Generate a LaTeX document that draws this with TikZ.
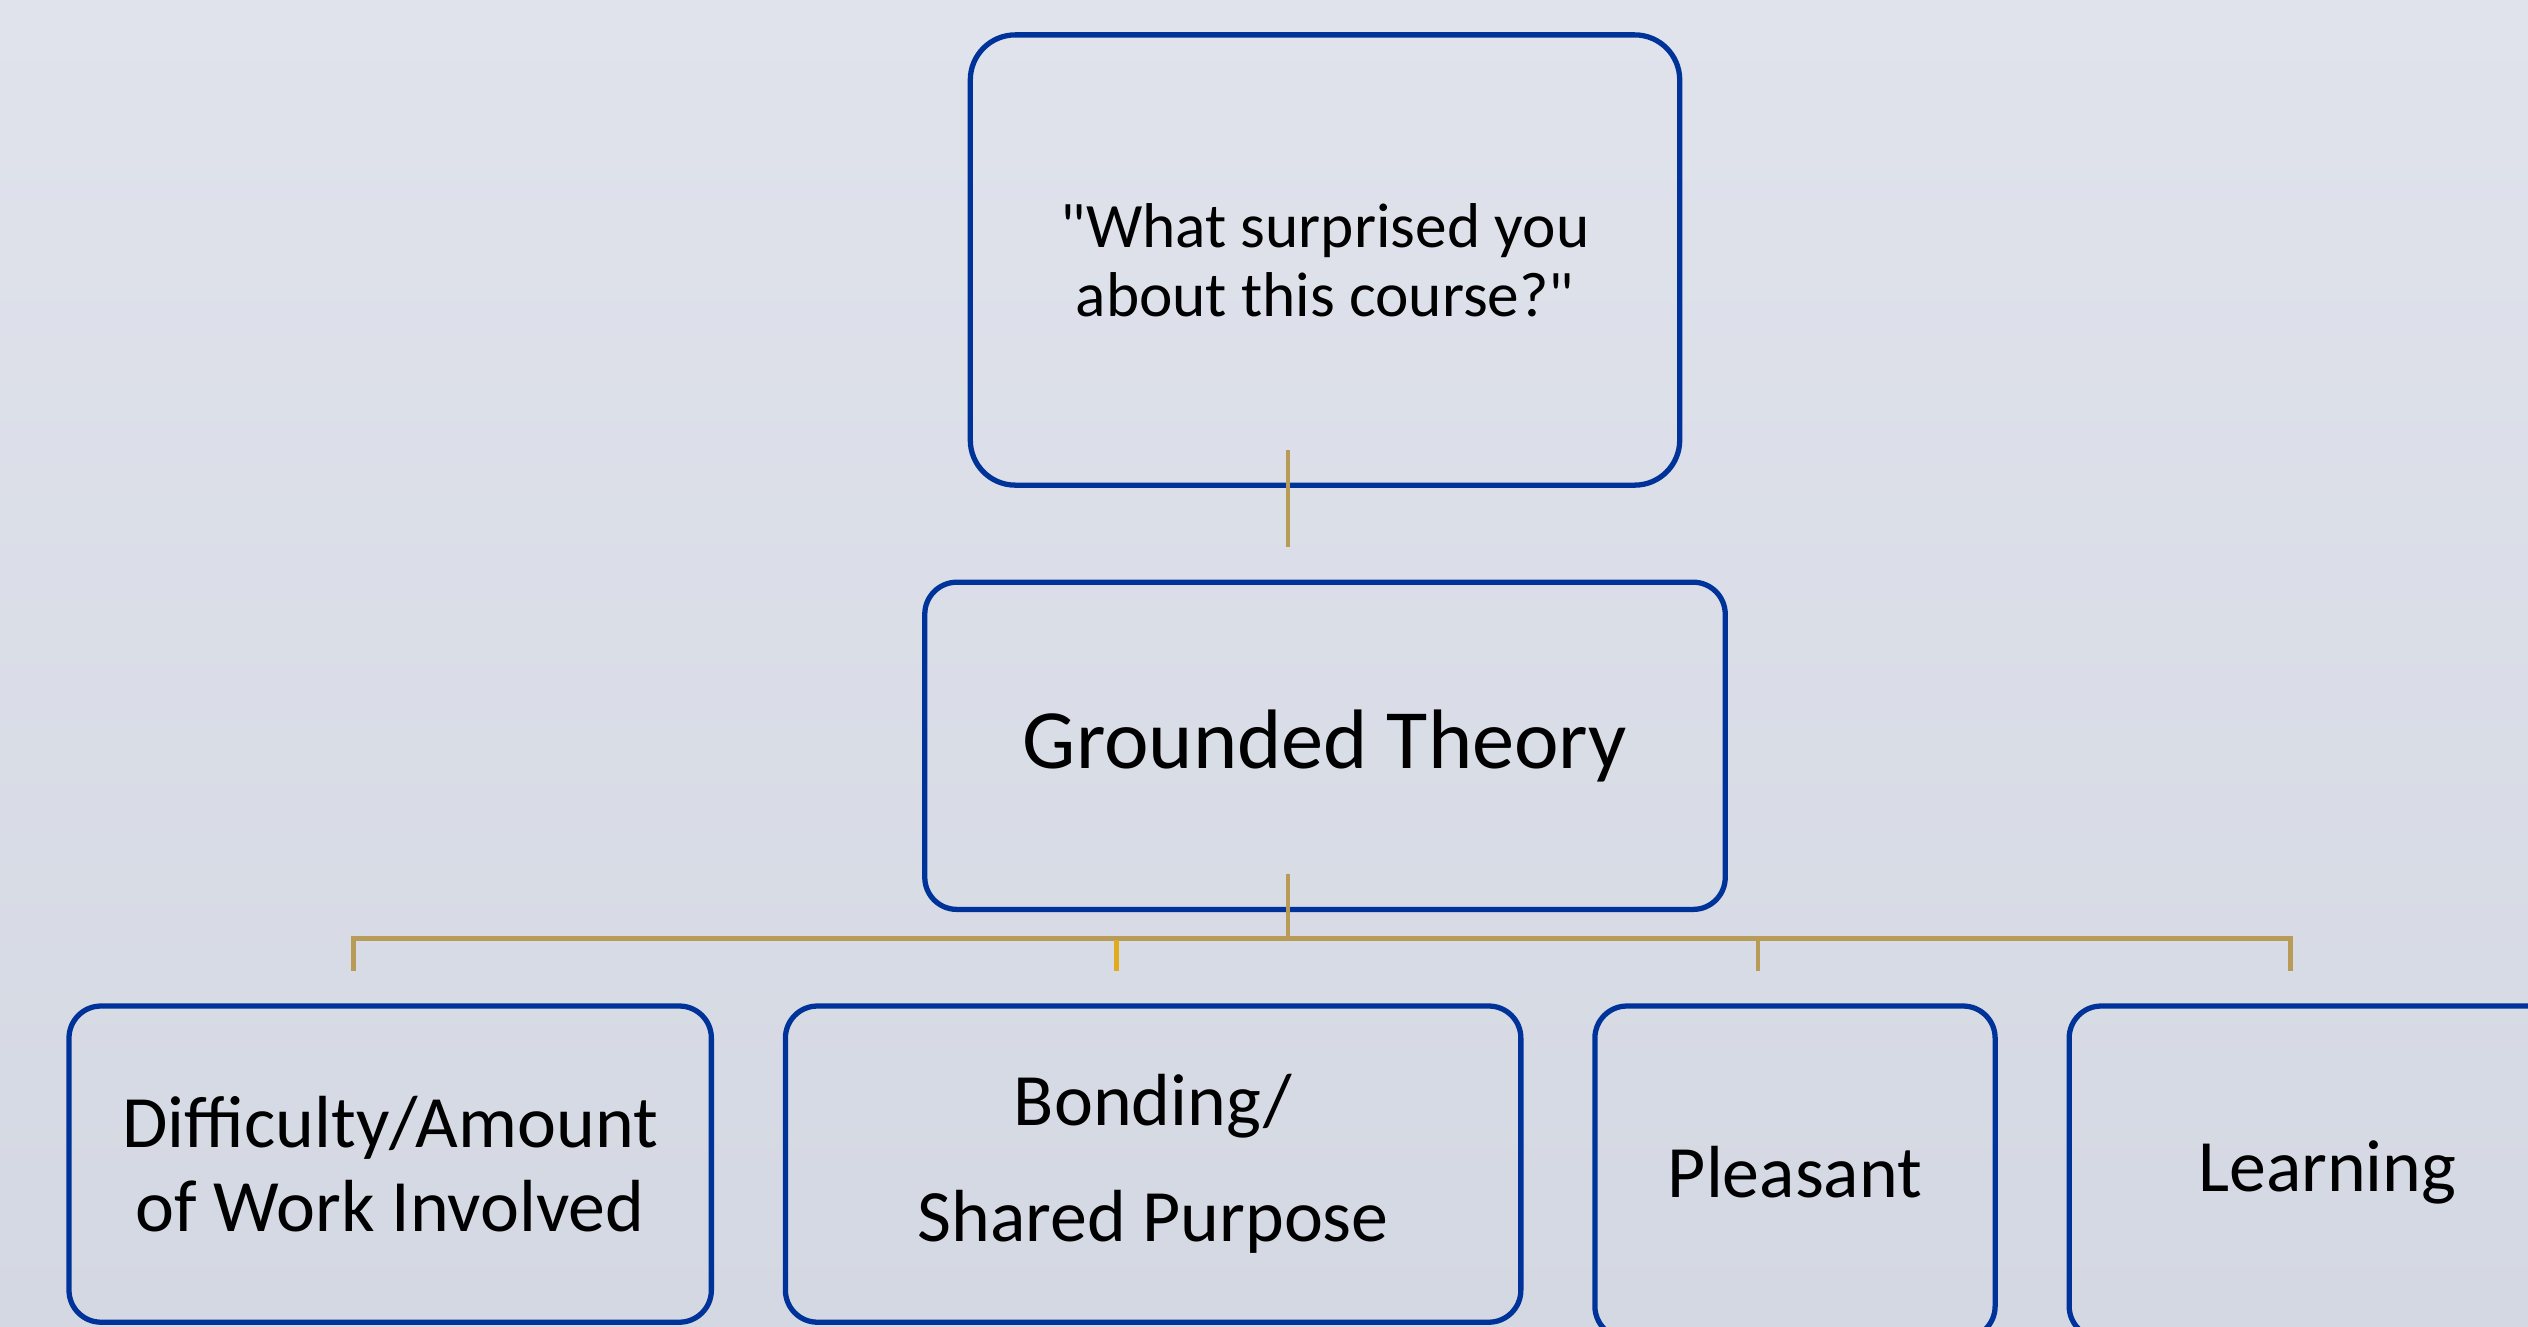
\documentclass[tikz,border=0pt]{standalone}
\usepackage{fontspec}
\setmainfont{Carlito}
\usetikzlibrary{calc,positioning}
\definecolor{BoxBlue}{HTML}{003399}
\definecolor{LinkGold}{HTML}{B89B57}
\definecolor{LinkYellow}{HTML}{E0AC1E}
\definecolor{BgTop}{HTML}{E0E3EC}
\definecolor{BgBottom}{HTML}{D4D8E2}

\begin{document}
\begin{tikzpicture}[x=0.01cm,y=-0.01cm,
  box/.style={draw=BoxBlue,line width=1.5pt,rounded corners=0.32cm,outer sep=0pt,inner sep=0pt,align=center},
  kid/.style={box,minimum height=3.16cm,font=\fontsize{21}{24}\selectfont},
  link/.style={draw=LinkGold,line width=1.4pt}]
  \clip (0,0) rectangle (2528,1326);
  \shade[top color=BgTop,bottom color=BgBottom] (0,0) rectangle (2528,1326);

  % question and method
  \node[box,rounded corners=0.45cm,minimum width=7.09cm,minimum height=4.5cm,font=\fontsize{18}{19.6}\selectfont] (question) at (1325,260) {\textquotedbl What surprised you\\about this course?\textquotedbl};
  \node[box,minimum width=8cm,minimum height=3.27cm,font=\fontsize{24}{29}\selectfont,below=0.97cm of question] (theory) {Grounded Theory};

  % themes
  \node[kid,minimum width=6.42cm,anchor=north west] (work) at (69,1006) {Difficulty/Amount\\of Work Involved};
  \node[kid,minimum width=7.35cm,right=0.74cm of work.north east,anchor=north west] (bond) {Bonding/\\[9pt]Shared Purpose};
  \node[kid,minimum width=4cm,minimum height=3.32cm,right=0.74cm of bond.north east,anchor=north west] (pleasant) {Pleasant};
  \node[kid,minimum width=5.16cm,minimum height=3.32cm,right=0.74cm of pleasant.north east,anchor=north west] (learn) {Learning};

  % connectors
  \coordinate (nudge) at (-37,-35);
  \draw[link] ($(question.south)+(nudge)$) -- ($(theory.north)+(nudge)$);
  \foreach \theme in {work,bond,pleasant,learn}
    \draw[link] ($(theory.south)+(nudge)$) -- ++(0,64) -| ($(\theme.north)+(nudge)$);
  \draw[link,LinkYellow] ($(bond.north)+(nudge)$) -- ++(0,-31);
\end{tikzpicture}
\end{document}
